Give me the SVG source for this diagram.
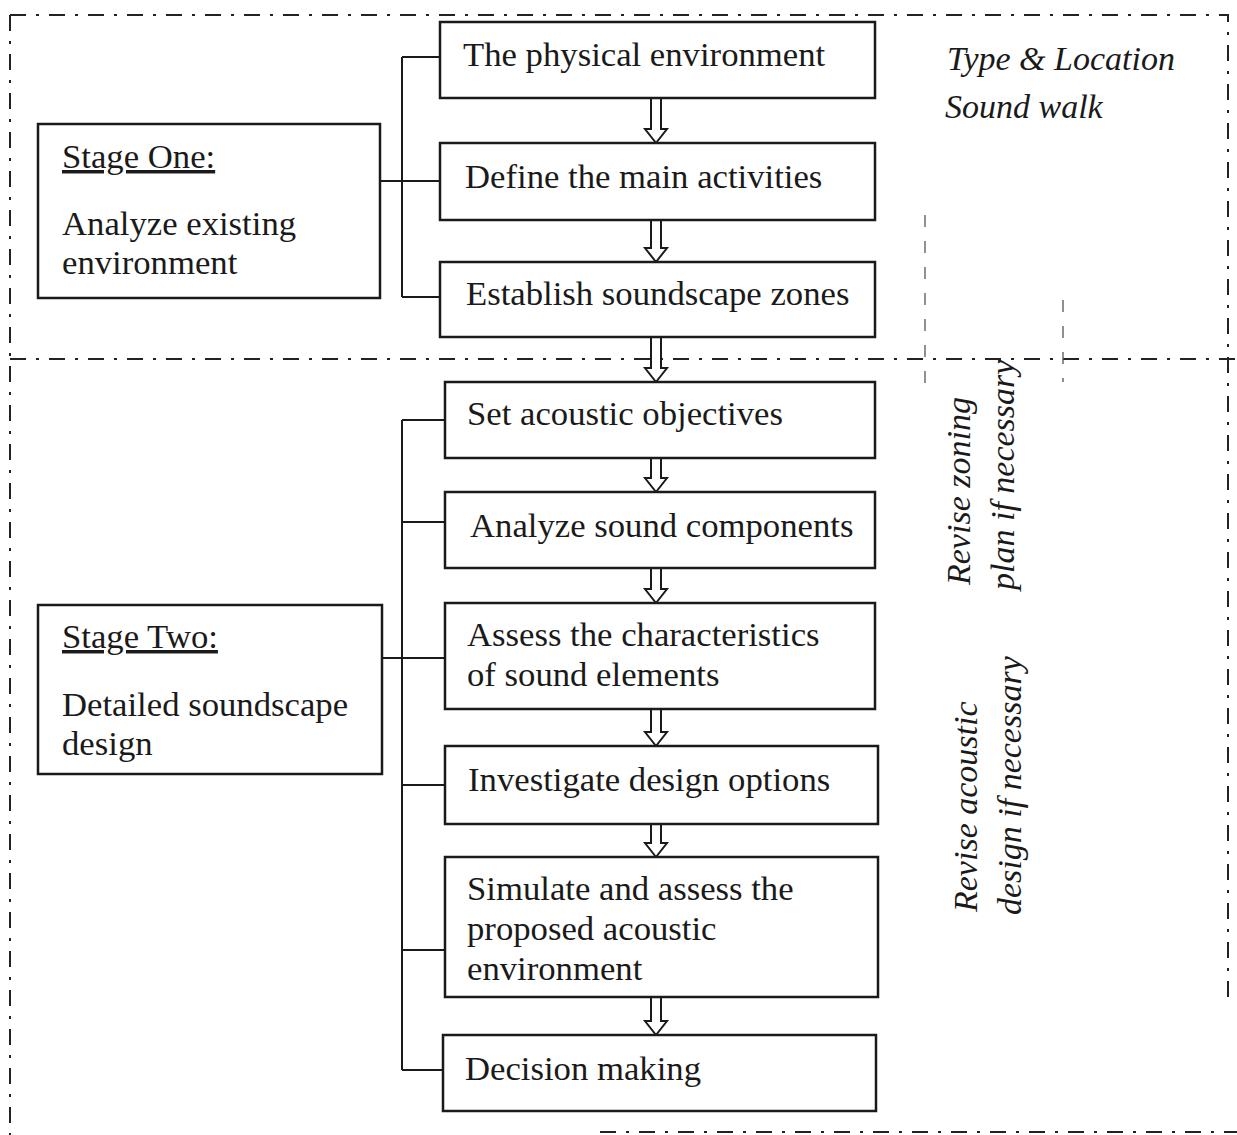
<svg xmlns="http://www.w3.org/2000/svg" width="1237" height="1135" viewBox="0 0 1237 1135">
  <defs>
    <style>
      .frame { fill: none; stroke: #222; stroke-width: 2; stroke-dasharray: 16 10 3 10; }
      .guide { fill: none; stroke: #555; stroke-width: 1.3; stroke-dasharray: 12 14; }
      .box { fill: #fff; stroke: #1a1a1a; stroke-width: 2.5; }
      .link { fill: none; stroke: #1a1a1a; stroke-width: 2; }
      .flow { fill: #fff; stroke: #1a1a1a; stroke-width: 2; stroke-linejoin: miter; }
      .t { font-family: "Liberation Serif", "Times New Roman", serif; font-size: 34.7px; fill: #1a1a1a; }
      .i { font-family: "Liberation Serif", "Times New Roman", serif; font-size: 34px; font-style: italic; fill: #1a1a1a; }
      .u { text-decoration: underline; }
    </style>
  </defs>
  <rect width="1237" height="1135" fill="#fff"/>

  <!-- stage boundaries (dash-dot) -->
  <g id="frames">
    <path class="frame" d="M10 15 H1228 V1000"/>
    <path class="frame" d="M10 15 V1135"/>
    <path class="frame" d="M10 359 H1237"/>
    <path class="frame" d="M600 1132 H1237"/>
    <path class="guide" d="M925 215 V392"/>
    <path class="guide" d="M1063 300 V382"/>
  </g>

  <!-- connectors: brackets and flow arrows -->
  <g id="connectors">
    <path class="link" d="M380 181 H440 M402 57 V297 M402 57 H440 M402 297 H440"/>
    <path class="link" d="M382 658 H445 M402 420 V1070 M402 420 H445 M402 522 H445 M402 785 H445 M402 950 H445 M402 1070 H443"/>
    <path class="flow" d="M651 98 V129 H645 L656 143 L667 129 H661 V98"/>
    <path class="flow" d="M651 220 V248 H645 L656 262 L667 248 H661 V220"/>
    <path class="flow" d="M651 337 V368 H645 L656 382 L667 368 H661 V337"/>
    <path class="flow" d="M651 458 V478 H645 L656 492 L667 478 H661 V458"/>
    <path class="flow" d="M651 568 V589 H645 L656 603 L667 589 H661 V568"/>
    <path class="flow" d="M651 709 V732 H645 L656 746 L667 732 H661 V709"/>
    <path class="flow" d="M651 824 V843 H645 L656 857 L667 843 H661 V824"/>
    <path class="flow" d="M651 997 V1021 H645 L656 1035 L667 1021 H661 V997"/>
  </g>

  <g id="stage-one">
    <rect class="box" x="38" y="124" width="342" height="174"/>
    <text class="t u" x="62" y="168">Stage One:</text>
    <text class="t" x="62" y="235">Analyze existing</text>
    <text class="t" x="62" y="274">environment</text>
  </g>

  <g id="physical-environment">
    <rect class="box" x="440" y="22" width="435" height="76"/>
    <text class="t" x="463" y="66">The physical environment</text>
  </g>
  <g id="main-activities">
    <rect class="box" x="440" y="143" width="435" height="77"/>
    <text class="t" x="465" y="188">Define the main activities</text>
  </g>
  <g id="soundscape-zones">
    <rect class="box" x="440" y="262" width="435" height="75"/>
    <text class="t" x="466" y="305">Establish soundscape zones</text>
  </g>

  <g id="notes-stage-one">
    <text class="i" x="947" y="70">Type &amp; Location</text>
    <text class="i" x="945" y="118">Sound walk</text>
  </g>

  <g id="stage-two">
    <rect class="box" x="38" y="605" width="344" height="169"/>
    <text class="t u" x="62" y="648">Stage Two:</text>
    <text class="t" x="62" y="716">Detailed soundscape</text>
    <text class="t" x="62" y="755">design</text>
  </g>

  <g id="acoustic-objectives">
    <rect class="box" x="445" y="382" width="430" height="76"/>
    <text class="t" x="467" y="425">Set acoustic objectives</text>
  </g>
  <g id="sound-components">
    <rect class="box" x="445" y="492" width="430" height="76"/>
    <text class="t" x="470" y="537">Analyze sound components</text>
  </g>
  <g id="sound-elements">
    <rect class="box" x="445" y="603" width="430" height="106"/>
    <text class="t" x="467" y="646">Assess the characteristics</text>
    <text class="t" x="467" y="686">of sound elements</text>
  </g>
  <g id="design-options">
    <rect class="box" x="445" y="746" width="433" height="78"/>
    <text class="t" x="468" y="791">Investigate design options</text>
  </g>
  <g id="simulate-assess">
    <rect class="box" x="445" y="857" width="433" height="140"/>
    <text class="t" x="467" y="900">Simulate and assess the</text>
    <text class="t" x="467" y="940">proposed acoustic</text>
    <text class="t" x="467" y="980">environment</text>
  </g>
  <g id="decision-making">
    <rect class="box" x="443" y="1035" width="433" height="76"/>
    <text class="t" x="465" y="1080">Decision making</text>
  </g>

  <g id="notes-stage-two">
    <text class="i" transform="translate(970 585) rotate(-90)">Revise zoning</text>
    <text class="i" transform="translate(1014 590) rotate(-90)">plan if necessary</text>
    <text class="i" transform="translate(977 912) rotate(-90)">Revise acoustic</text>
    <text class="i" transform="translate(1021 915) rotate(-90)">design if necessary</text>
  </g>
</svg>
